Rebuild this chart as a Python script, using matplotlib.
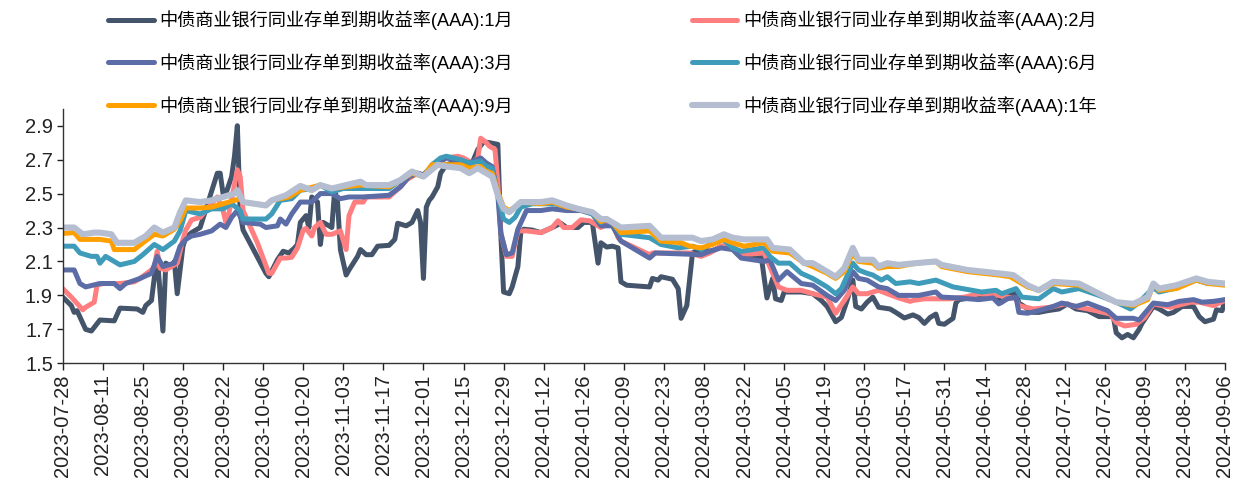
import matplotlib.pyplot as plt
import matplotlib.dates as mdates
import pandas as pd
import numpy as np

plt.rcParams['font.family'] = ['Liberation Sans', 'Noto Sans CJK SC', 'DejaVu Sans']

start = pd.Timestamp('2023-07-28')
end = pd.Timestamp('2024-09-06')

# 到期收益率 (%)，按距 2023-07-28 的天数记录
day_1m = [0, 3, 4, 5, 8, 10, 13, 18, 20, 26, 28, 29, 31, 33, 35, 36, 38, 39, 40, 42, 43, 45, 48, 51,
          54, 55, 56, 57, 59, 60, 61, 62, 63, 66, 71, 72, 75, 77, 79, 81, 82, 83, 85, 86, 87, 89, 90,
          91, 94, 95, 96, 97, 99, 100, 103, 104, 106, 108, 110, 114, 116, 117, 120, 122, 124, 125,
          126, 127, 128, 129, 131, 132, 134, 136, 140, 143, 145, 147, 149, 152, 153, 154, 156, 157,
          159, 160, 161, 164, 167, 171, 174, 176, 180, 182, 185, 187, 188, 190, 192, 194, 195, 197,
          205, 206, 208, 209, 213, 215, 216, 218, 220, 221, 224, 226, 228, 230, 234, 236, 239, 243,
          244, 246, 248, 249, 251, 252, 258, 262, 265, 267, 270, 272, 274, 276, 277, 279, 281, 283,
          285, 289, 291, 294, 297, 299, 301, 303, 305, 306, 308, 311, 312, 313, 317, 323, 326, 328,
          330, 333, 334, 339, 341, 344, 348, 351, 354, 358, 362, 367, 368, 370, 372, 374, 376, 377,
          381, 383, 386, 388, 391, 395, 397, 399, 402, 403, 405, 406]
val_1m = [1.89, 1.84, 1.80, 1.81, 1.70, 1.69, 1.755, 1.75, 1.825, 1.82, 1.80, 1.84, 1.87, 2.14, 1.69,
          2.09, 2.07, 2.10, 1.91, 2.19, 2.24, 2.27, 2.30, 2.46, 2.62, 2.62, 2.50, 2.50, 2.60, 2.72,
          2.90, 2.38, 2.285, 2.19, 2.03, 2.01, 2.11, 2.16, 2.15, 2.18, 2.20, 2.33, 2.37, 2.30, 2.48,
          2.45, 2.20, 2.33, 2.30, 2.52, 2.45, 2.17, 2.02, 2.05, 2.13, 2.17, 2.14, 2.14, 2.19, 2.195,
          2.23, 2.325, 2.31, 2.33, 2.40, 2.33, 2.00, 2.42, 2.46, 2.48, 2.54, 2.62, 2.67, 2.68, 2.67,
          2.68, 2.76, 2.805, 2.80, 2.79, 2.27, 1.92, 1.91, 1.95, 2.07, 2.27, 2.29, 2.285, 2.27, 2.30,
          2.325, 2.30, 2.30, 2.33, 2.33, 2.09, 2.21, 2.185, 2.19, 2.18, 1.98, 1.96, 1.95, 2.00, 1.99,
          2.01, 1.995, 1.94, 1.765, 1.84, 2.15, 2.16, 2.17, 2.16, 2.17, 2.19, 2.19, 2.14, 2.12, 2.12,
          2.13, 1.885, 2.00, 1.88, 1.87, 1.92, 1.92, 1.91, 1.87, 1.835, 1.745, 1.77, 1.87, 1.99,
          1.835, 1.82, 1.86, 1.89, 1.83, 1.82, 1.80, 1.767, 1.785, 1.77, 1.735, 1.77, 1.79, 1.735,
          1.73, 1.765, 1.855, 1.875, 1.885, 1.89, 1.89, 1.86, 1.89, 1.92, 1.855, 1.80, 1.80, 1.81,
          1.82, 1.85, 1.82, 1.81, 1.775, 1.775, 1.68, 1.65, 1.67, 1.65, 1.70, 1.735, 1.835, 1.82,
          1.79, 1.80, 1.835, 1.835, 1.775, 1.745, 1.76, 1.815, 1.81, 1.875]

day_2m = [0, 3, 7, 8, 11, 12, 14, 20, 25, 27, 31, 32, 33, 34, 36, 40, 42, 43, 45, 48, 51, 54, 56, 57,
          58, 61, 62, 63, 68, 72, 73, 76, 78, 80, 82, 84, 85, 87, 88, 90, 92, 94, 97, 99, 100, 102,
          105, 106, 114, 118, 120, 124, 126, 129, 134, 138, 140, 143, 145, 146, 148, 149, 151, 152,
          153, 155, 157, 159, 162, 167, 171, 173, 175, 178, 181, 184, 188, 190, 192, 194, 195, 205,
          206, 219, 223, 226, 230, 234, 237, 245, 247, 250, 253, 258, 262, 267, 270, 273, 276, 278,
          281, 285, 288, 292, 296, 297, 301, 310, 315, 320, 327, 333, 334, 339, 345, 350, 355, 361,
          366, 368, 371, 375, 378, 381, 387, 394, 397, 402, 406]
val_2m = [1.94, 1.89, 1.815, 1.83, 1.86, 1.96, 1.97, 1.97, 1.98, 2.00, 2.05, 2.07, 2.16, 2.06, 2.05,
          2.09, 2.23, 2.285, 2.345, 2.36, 2.42, 2.48, 2.40, 2.33, 2.38, 2.64, 2.60, 2.40, 2.21, 2.03,
          2.03, 2.12, 2.12, 2.125, 2.18, 2.285, 2.295, 2.25, 2.30, 2.33, 2.26, 2.26, 2.28, 2.17, 2.37,
          2.45, 2.45, 2.48, 2.48, 2.54, 2.58, 2.62, 2.61, 2.66, 2.71, 2.72, 2.71, 2.68, 2.71, 2.826,
          2.80, 2.78, 2.76, 2.56, 2.27, 2.13, 2.13, 2.28, 2.28, 2.27, 2.30, 2.34, 2.30, 2.30, 2.345,
          2.34, 2.30, 2.32, 2.33, 2.24, 2.22, 2.14, 2.15, 2.15, 2.13, 2.15, 2.19, 2.19, 2.14, 2.15,
          2.07, 1.95, 1.93, 1.93, 1.91, 1.89, 1.795, 1.87, 1.95, 1.91, 1.91, 1.93, 1.91, 1.885, 1.865,
          1.87, 1.88, 1.88, 1.89, 1.91, 1.90, 1.88, 1.84, 1.82, 1.83, 1.85, 1.83, 1.81, 1.79, 1.74,
          1.72, 1.73, 1.77, 1.85, 1.83, 1.86, 1.86, 1.84, 1.87]

day_3m = [0, 4, 6, 8, 13, 18, 20, 22, 27, 31, 33, 35, 39, 41, 43, 45, 48, 52, 55, 57, 59, 61, 63, 69,
          71, 75, 76, 78, 80, 83, 87, 90, 94, 97, 100, 105, 114, 118, 121, 124, 126, 129, 134, 139,
          142, 146, 148, 150, 152, 153, 155, 157, 159, 162, 167, 171, 176, 181, 185, 188, 192, 195,
          205, 207, 223, 226, 230, 234, 237, 245, 247, 250, 253, 258, 262, 267, 270, 273, 276, 278,
          281, 285, 288, 292, 296, 299, 302, 305, 307, 313, 320, 325, 327, 330, 333, 334, 337, 341,
          346, 349, 354, 358, 365, 368, 374, 376, 381, 386, 390, 395, 398, 402, 406]
val_3m = [2.05, 2.05, 1.97, 1.95, 1.97, 1.97, 1.94, 1.97, 2.00, 2.03, 2.13, 2.07, 2.09, 2.19, 2.23,
          2.25, 2.26, 2.28, 2.32, 2.30, 2.36, 2.40, 2.33, 2.32, 2.30, 2.31, 2.35, 2.32, 2.38, 2.45,
          2.45, 2.50, 2.50, 2.47, 2.48, 2.48, 2.49, 2.54, 2.60, 2.62, 2.61, 2.66, 2.71, 2.69, 2.68,
          2.71, 2.68, 2.66, 2.49, 2.27, 2.14, 2.15, 2.29, 2.40, 2.40, 2.41, 2.40, 2.40, 2.38, 2.31,
          2.31, 2.22, 2.12, 2.15, 2.14, 2.16, 2.18, 2.17, 2.12, 2.10, 2.11, 1.99, 2.04, 1.97, 1.96,
          1.90, 1.87, 1.93, 2.04, 2.00, 1.99, 1.95, 1.94, 1.90, 1.90, 1.90, 1.91, 1.92, 1.89, 1.885,
          1.875, 1.885, 1.85, 1.88, 1.89, 1.80, 1.795, 1.81, 1.835, 1.855, 1.835, 1.855, 1.81, 1.765,
          1.765, 1.755, 1.855, 1.845, 1.865, 1.875, 1.86, 1.865, 1.875]

day_6m = [0, 4, 6, 10, 12, 13, 15, 18, 20, 25, 28, 32, 35, 39, 41, 43, 48, 52, 56, 59, 62, 63, 71, 73,
          76, 80, 83, 88, 90, 94, 98, 104, 114, 118, 122, 126, 129, 132, 134, 139, 142, 146, 148,
          150, 152, 154, 156, 158, 160, 164, 171, 176, 182, 185, 188, 190, 192, 195, 205, 209, 215,
          220, 223, 226, 230, 234, 237, 245, 247, 250, 254, 258, 262, 267, 270, 272, 276, 278, 281,
          283, 286, 288, 291, 296, 299, 305, 311, 321, 326, 328, 333, 335, 341, 346, 349, 355, 362,
          368, 373, 376, 381, 383, 388, 391, 396, 400, 406]
val_6m = [2.19, 2.19, 2.15, 2.13, 2.13, 2.09, 2.13, 2.10, 2.08, 2.10, 2.14, 2.20, 2.17, 2.22, 2.28,
          2.40, 2.38, 2.41, 2.41, 2.44, 2.40, 2.35, 2.35, 2.38, 2.46, 2.47, 2.52, 2.53, 2.55, 2.51,
          2.53, 2.53, 2.53, 2.58, 2.63, 2.60, 2.67, 2.71, 2.72, 2.70, 2.68, 2.69, 2.66, 2.65, 2.49,
          2.35, 2.33, 2.36, 2.42, 2.44, 2.44, 2.43, 2.40, 2.38, 2.33, 2.35, 2.33, 2.26, 2.24, 2.20,
          2.18, 2.19, 2.17, 2.20, 2.24, 2.18, 2.16, 2.18, 2.13, 2.09, 2.09, 2.03, 2.00, 1.95, 1.91,
          1.94, 2.09, 2.05, 2.03, 2.02, 1.99, 2.01, 1.97, 1.98, 1.97, 1.99, 1.95, 1.92, 1.93, 1.91,
          1.94, 1.89, 1.88, 1.94, 1.92, 1.94, 1.90, 1.86, 1.82, 1.86, 1.945, 1.92, 1.94, 1.96, 1.99,
          1.97, 1.97]

day_9m = [0, 4, 6, 13, 17, 18, 25, 28, 32, 35, 39, 41, 43, 48, 52, 60, 62, 63, 71, 73, 79, 83, 90, 94,
          104, 114, 118, 122, 126, 129, 134, 139, 142, 146, 148, 150, 152, 154, 156, 158, 160, 167,
          171, 176, 180, 185, 188, 190, 192, 195, 205, 209, 216, 219, 223, 227, 231, 234, 238, 245,
          248, 254, 259, 262, 267, 270, 273, 276, 278, 283, 285, 288, 292, 298, 305, 307, 316, 327,
          331, 337, 341, 346, 355, 362, 368, 374, 379, 381, 383, 389, 396, 400, 406]
val_9m = [2.265, 2.27, 2.23, 2.23, 2.22, 2.17, 2.17, 2.21, 2.26, 2.25, 2.29, 2.34, 2.415, 2.415, 2.42,
          2.46, 2.47, 2.45, 2.43, 2.46, 2.48, 2.52, 2.55, 2.53, 2.55, 2.54, 2.58, 2.62, 2.60, 2.67,
          2.67, 2.67, 2.65, 2.66, 2.63, 2.62, 2.51, 2.42, 2.40, 2.42, 2.45, 2.44, 2.45, 2.42, 2.41,
          2.39, 2.335, 2.35, 2.33, 2.27, 2.28, 2.22, 2.21, 2.19, 2.18, 2.20, 2.23, 2.21, 2.19, 2.21,
          2.16, 2.15, 2.09, 2.07, 2.03, 2.00, 2.04, 2.15, 2.10, 2.09, 2.06, 2.07, 2.07, 2.09, 2.10,
          2.07, 2.04, 2.02, 2.01, 1.95, 1.93, 1.97, 1.96, 1.91, 1.86, 1.84, 1.875, 1.965, 1.93, 1.94,
          1.99, 1.97, 1.96]

day_1y = [0, 4, 7, 11, 13, 17, 19, 25, 29, 32, 35, 39, 41, 43, 48, 52, 60, 61, 63, 71, 73, 78, 83, 87,
          90, 94, 99, 104, 106, 114, 118, 122, 126, 131, 134, 139, 142, 145, 148, 150, 152, 154, 156,
          158, 160, 167, 171, 176, 180, 185, 188, 190, 195, 205, 209, 216, 220, 223, 227, 231, 234,
          238, 246, 248, 254, 259, 262, 267, 270, 273, 276, 278, 283, 285, 288, 292, 298, 305, 307,
          316, 327, 332, 337, 341, 346, 355, 362, 368, 374, 379, 381, 383, 389, 396, 400, 406]
val_1y = [2.30, 2.30, 2.26, 2.27, 2.27, 2.26, 2.21, 2.21, 2.25, 2.30, 2.27, 2.30, 2.39, 2.46, 2.45,
          2.46, 2.50, 2.52, 2.45, 2.43, 2.46, 2.49, 2.545, 2.52, 2.55, 2.53, 2.55, 2.57, 2.55, 2.55,
          2.58, 2.63, 2.60, 2.67, 2.66, 2.65, 2.62, 2.65, 2.62, 2.60, 2.49, 2.41, 2.39, 2.42, 2.45,
          2.45, 2.46, 2.43, 2.41, 2.39, 2.35, 2.35, 2.30, 2.31, 2.24, 2.24, 2.24, 2.22, 2.23, 2.26,
          2.24, 2.23, 2.23, 2.18, 2.17, 2.09, 2.09, 2.04, 2.01, 2.06, 2.18, 2.11, 2.11, 2.07, 2.09,
          2.08, 2.09, 2.10, 2.08, 2.05, 2.03, 2.02, 1.96, 1.93, 1.98, 1.97, 1.91, 1.86, 1.85, 1.89,
          1.97, 1.94, 1.96, 2.00, 1.98, 1.97]

labels = ['中债商业银行同业存单到期收益率(AAA):1月',
          '中债商业银行同业存单到期收益率(AAA):2月',
          '中债商业银行同业存单到期收益率(AAA):3月',
          '中债商业银行同业存单到期收益率(AAA):6月',
          '中债商业银行同业存单到期收益率(AAA):9月',
          '中债商业银行同业存单到期收益率(AAA):1年']
colors = ['#44546A', '#FF7F80', '#5B6CA6', '#3F9BBA', '#FFA000', '#B4BED0']
widths = [3.6, 3.6, 3.6, 3.6, 3.6, 4.4]

series = [(day_1m, val_1m), (day_2m, val_2m), (day_3m, val_3m),
          (day_6m, val_6m), (day_9m, val_9m), (day_1y, val_1y)]

fig = plt.figure(figsize=(12.42, 4.86), dpi=100)
ax = fig.add_axes([0.0505, 0.2525, 0.9358, 0.5238])

lines = []
for (d, v), lab, c, lw in zip(series, labels, colors, widths):
    dates = start + pd.to_timedelta(d, unit='D')
    ln, = ax.plot(dates, v, color=c, lw=lw, label=lab,
                  solid_joinstyle='round', solid_capstyle='round')
    lines.append(ln)

ax.set_xlim(start, end)
ax.set_ylim(1.5, 3.0)
ax.set_yticks(np.arange(1.5, 2.95, 0.2))
ax.yaxis.set_major_formatter(plt.FormatStrFormatter('%.1f'))
ax.set_xticks(pd.date_range(start, end, freq='14D'))
ax.xaxis.set_major_formatter(mdates.DateFormatter('%Y-%m-%d'))
plt.setp(ax.get_xticklabels(), rotation=90)

for s in ['top', 'right']:
    ax.spines[s].set_visible(False)
for s in ['left', 'bottom']:
    ax.spines[s].set_linewidth(1.0)
    ax.spines[s].set_color('#333333')
ax.tick_params(axis='both', labelsize=14.5, colors='#222222', length=5, width=1)
ax.tick_params(axis='x', pad=3)
ax.tick_params(axis='y', pad=3, length=4)

# legend is filled row by row: 1月 2月 / 3月 6月 / 9月 1年
order = [0, 2, 4, 1, 3, 5]
fig.legend([lines[i] for i in order], [labels[i] for i in order],
           loc='upper left', bbox_to_anchor=(0.087, 0.979), ncol=2, frameon=False,
           fontsize=13.1, handlelength=2.5, handletextpad=0.3, columnspacing=9.85,
           labelspacing=1.27, borderpad=0, borderaxespad=0)

fig.savefig('out.png', dpi=100)
